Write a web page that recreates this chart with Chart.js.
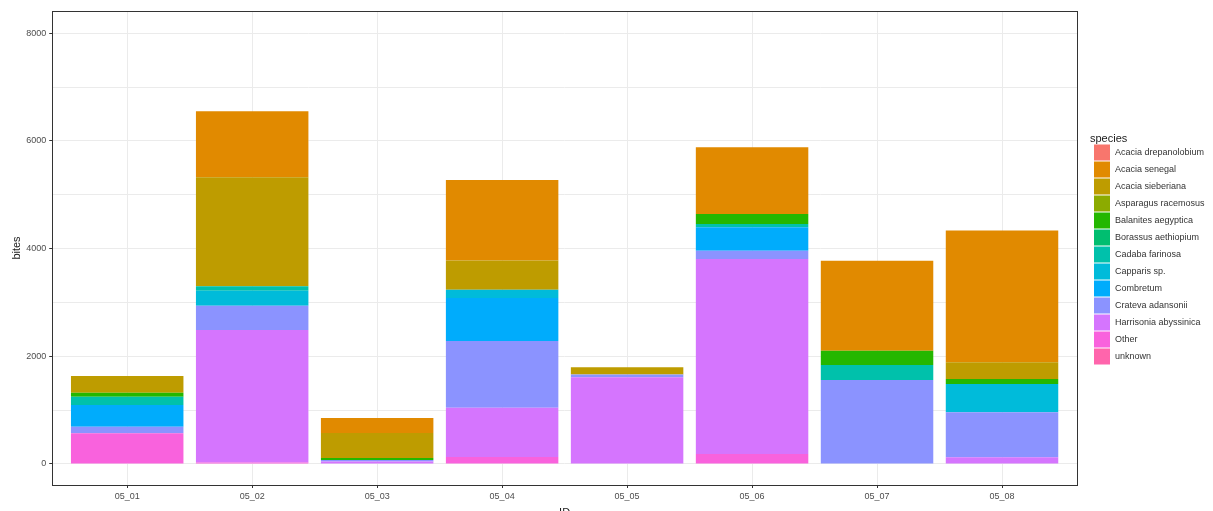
<!DOCTYPE html>
<html>
<head>
<meta charset="utf-8">
<title>bites per ID</title>
<script src="https://cdn.jsdelivr.net/npm/chart.js@4.4.1/dist/chart.umd.min.js"></script>
<style>
  html, body { margin: 0; padding: 0; background: #fff; overflow: hidden; }
  .wrap { position: relative; width: 1213px; height: 520px; }
</style>
</head>
<body>
<div class="wrap"><canvas id="biteChart"></canvas></div>
<script>
// categories
const ids = ["05_01", "05_02", "05_03", "05_04", "05_05", "05_06", "05_07", "05_08"];
const species = [
  "Acacia drepanolobium", "Acacia senegal", "Acacia sieberiana", "Asparagus racemosus",
  "Balanites aegyptica", "Borassus aethiopium", "Cadaba farinosa", "Capparis sp.",
  "Combretum", "Crateva adansonii", "Harrisonia abyssinica", "Other", "unknown"
];
const speciesColors = [
  "#F8766D", "#E18A00", "#BE9C00", "#8CAB00", "#24B700", "#00BE70", "#00C1AB",
  "#00BBDA", "#00ACFC", "#8B93FF", "#D575FE", "#F962DD", "#FF65AC"
];

// bites per ID for each species
const acaciaDrepanolobium  = [0, 0, 0, 0, 0, 0, 0, 0];
const acaciaSenegal        = [0, 1226, 279, 1498, 0, 1238, 1671, 2445];
const acaciaSieberiana     = [310, 2024, 464, 544, 136, 0, 0, 310];
const asparagusRacemosus   = [0, 0, 0, 0, 0, 0, 0, 0];
const balanitesAegyptica   = [74, 0, 37, 0, 0, 186, 266, 93];
const borassusAethiopium   = [0, 0, 0, 0, 0, 0, 0, 0];
const cadabaFarinosa       = [155, 80, 0, 0, 0, 62, 279, 0];
const capparisSp           = [0, 280, 0, 150, 0, 0, 0, 526];
const combretum            = [402, 0, 0, 800, 0, 433, 0, 0];
const crateveAdansonii     = [124, 452, 30, 1238, 50, 155, 1560, 836];
const harrisoniaAbyssinica = [0, 2457, 45, 916, 1610, 3621, 0, 124];
const other                = [570, 30, 0, 130, 0, 186, 0, 0];
const unknown              = [0, 0, 0, 0, 0, 0, 0, 0];

// axis ticks
const yMajorTicks = [0, 2000, 4000, 6000, 8000];
const yMinorTicks = [1000, 3000, 5000, 7000];

const bitesBySpecies = [
  acaciaDrepanolobium, acaciaSenegal, acaciaSieberiana, asparagusRacemosus,
  balanitesAegyptica, borassusAethiopium, cadabaFarinosa, capparisSp,
  combretum, crateveAdansonii, harrisoniaAbyssinica, other, unknown
];

// ggplot stacks the first level on top, so feed the datasets bottom-up
const datasets = species.map((name, s) => ({
  label: name,
  data: bitesBySpecies[s].map((v, i) => ({ x: i + 1, y: v })),
  backgroundColor: speciesColors[s],
  borderWidth: 0,
  barPercentage: 0.9,
  categoryPercentage: 1
})).reverse();

const axisGrey = "#4D4D4D";
const gridGrey = "#EBEBEB";

// dark frame around the panel
const panelBorder = {
  id: "panelBorder",
  afterDraw(chart) {
    const { ctx, chartArea: a } = chart;
    ctx.save();
    ctx.strokeStyle = "#333333";
    ctx.lineWidth = 1;
    ctx.strokeRect(Math.round(a.left) + 0.5, Math.round(a.top) + 0.5,
      Math.round(a.right - a.left), Math.round(a.bottom - a.top));
    ctx.restore();
  }
};

// species key to the right of the panel
const speciesKey = {
  id: "speciesKey",
  afterDraw(chart) {
    const { ctx, chartArea: a } = chart;
    const rowH = 17;
    const left = a.right + 17;
    const top = Math.round((a.top + a.bottom - species.length * rowH) / 2) + 6;
    ctx.save();
    ctx.font = "11px 'Liberation Sans', Arial, sans-serif";
    ctx.fillStyle = "#1A1A1A";
    ctx.textBaseline = "middle";
    ctx.fillText("species", left - 4, top - 5);
    ctx.font = "9px 'Liberation Sans', Arial, sans-serif";
    species.forEach((name, i) => {
      const y = top + i * rowH;
      ctx.fillStyle = speciesColors[i];
      ctx.fillRect(left, y + 0.5, 16, 16);
      ctx.fillStyle = "#333333";
      ctx.fillText(name, left + 21, y + 9);
    });
    ctx.restore();
  }
};

new Chart(document.getElementById("biteChart"), {
  type: "bar",
  data: { datasets },
  options: {
    responsive: true,
    maintainAspectRatio: false,
    animation: false,
    layout: { padding: { left: 2, right: 136, top: 11, bottom: 0 } },
    plugins: {
      legend: { display: false },
      tooltip: { enabled: false }
    },
    scales: {
      x: {
        type: "linear",
        stacked: true,
        offset: false,
        min: 0.4,
        max: 8.6,
        afterBuildTicks: (scale) => {
          scale.ticks = ids.map((_, i) => ({ value: i + 1 }));
        },
        ticks: {
          color: axisGrey,
          font: { size: 9, family: "'Liberation Sans', Arial, sans-serif" },
          padding: 3,
          maxRotation: 0,
          autoSkip: false,
          callback: (v) => ids[v - 1]
        },
        grid: { offset: false, color: gridGrey, tickColor: "#333333", tickLength: 3 },
        border: { display: false },
        title: {
          display: true,
          text: "ID",
          color: "#1A1A1A",
          font: { size: 11, family: "'Liberation Sans', Arial, sans-serif" },
          padding: { top: 2, bottom: 0 }
        }
      },
      y: {
        stacked: true,
        min: -390,
        max: 8412,
        afterBuildTicks: (scale) => {
          scale.ticks = yMajorTicks.concat(yMinorTicks)
            .sort((a, b) => a - b)
            .map((v) => ({ value: v }));
        },
        ticks: {
          color: axisGrey,
          font: { size: 9, family: "'Liberation Sans', Arial, sans-serif" },
          padding: 3,
          autoSkip: false,
          callback: (v) => (yMajorTicks.includes(v) ? String(v) : "")
        },
        grid: {
          color: gridGrey,
          tickLength: 3,
          tickColor: (c) => (c.tick && yMajorTicks.includes(c.tick.value) ? "#333333" : "rgba(0,0,0,0)")
        },
        border: { display: false },
        title: {
          display: true,
          text: "bites",
          color: "#1A1A1A",
          font: { size: 11, family: "'Liberation Sans', Arial, sans-serif" },
          padding: { top: 8, bottom: 0 }
        }
      }
    }
  },
  plugins: [panelBorder, speciesKey]
});
</script>
</body>
</html>
